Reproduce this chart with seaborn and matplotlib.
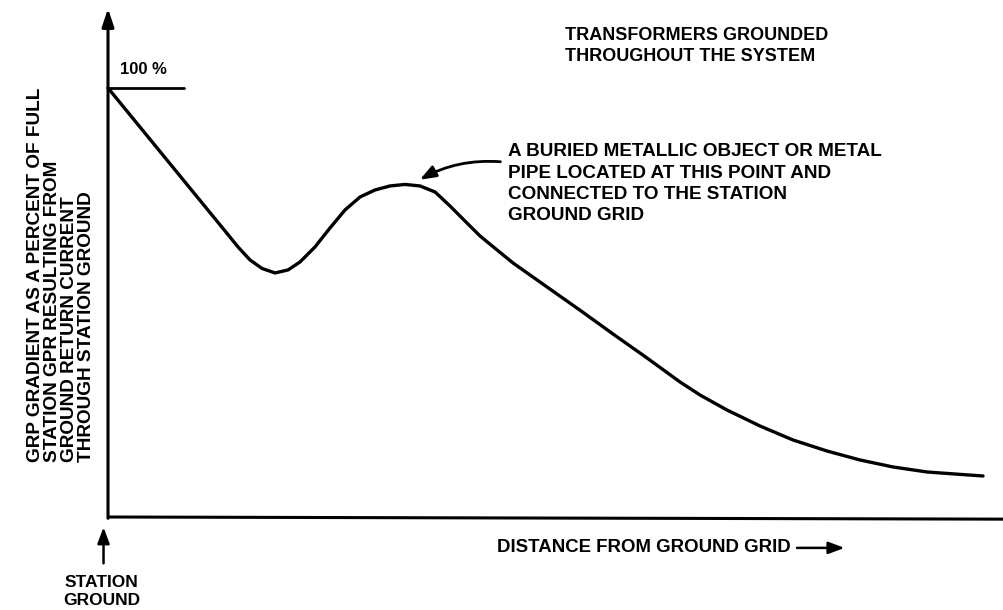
import matplotlib
matplotlib.use("Agg")
import matplotlib.pyplot as plt
import pandas as pd
import seaborn as sns

# Distance from the station ground grid (arbitrary units, station ground at 0)
distance = [0.0, 13.06, 14.51, 15.85, 17.19, 18.64, 20.09, 21.43, 23.10, 24.78,
            26.45, 28.13, 29.80, 31.47, 33.15, 34.82, 36.50, 38.17, 39.84, 41.52,
            43.42, 45.20, 47.10, 49.00, 52.68, 56.36, 60.16, 63.84, 66.07, 69.08,
            72.77, 76.45, 80.25, 83.93, 87.61, 91.41, 94.53, 97.66]
# GPR gradient as a percent of the full station GPR
gpr_percent = [100.0, 66.67, 62.94, 59.91, 57.93, 56.88, 57.58, 59.44, 62.94, 67.37,
               71.56, 74.59, 76.22, 77.16, 77.51, 77.16, 75.76, 72.49, 68.99, 65.50,
               62.24, 59.21, 56.41, 53.61, 48.20, 42.66, 37.06, 31.47, 28.44, 24.94,
               21.21, 17.95, 15.38, 13.29, 11.66, 10.49, 10.02, 9.56]

reference_level = 100.0
y_label_lines = [
    "GRP GRADIENT AS A PERCENT OF FULL",
    "STATION GPR RESULTING FROM",
    "GROUND RETURN CURRENT",
    "THROUGH STATION GROUND",
]
title_lines = ["TRANSFORMERS GROUNDED", "THROUGHOUT THE SYSTEM"]
note_lines = [
    "A BURIED METALLIC OBJECT OR METAL",
    "PIPE LOCATED AT THIS POINT AND",
    "CONNECTED TO THE STATION",
    "GROUND GRID",
]
x_label = "DISTANCE FROM GROUND GRID"
origin_label = "STATION\nGROUND"

sns.set_theme(style="white")
plt.rcParams["font.family"] = ["Liberation Sans", "DejaVu Sans"]

df = pd.DataFrame({"distance": distance, "gpr": gpr_percent})

fig = plt.figure(figsize=(10.04, 6.10), dpi=100)
ax = fig.add_axes([108 / 1004, 93 / 610, 896 / 1004, 517 / 610])
ax.set_xlim(0, 100)
ax.set_ylim(0, 120.5)
ax.axis("off")

ink = "black"
bold = dict(color=ink, fontweight="bold")

# Profile curve
sns.lineplot(data=df, x="distance", y="gpr", sort=False, color=ink,
             linewidth=2.4, ax=ax, clip_on=False)
ax.lines[-1].set_solid_joinstyle("round")
ax.lines[-1].set_solid_capstyle("round")

# Axes drawn as plain lines; vertical axis ends in an arrow
ax.plot([0, 100], [0, -0.5], color=ink, linewidth=2.2, clip_on=False,
        solid_capstyle="butt")
ax.annotate("", xy=(0, 118.5), xytext=(0, -0.3),
            arrowprops=dict(arrowstyle="-|>,head_length=0.9,head_width=0.3",
                            color=ink, linewidth=2.2, shrinkA=0, shrinkB=0),
            annotation_clip=False)

# 100 % reference tick
ax.plot([0, 8.5], [reference_level, reference_level], color=ink,
        linewidth=2.0, clip_on=False)
ax.text(1.3, 104.2, f"{reference_level:.0f} %", ha="left", va="center",
        fontsize=12, **bold)

# Vertical axis label
ax.text(-5.2, 12.8, "\n".join(y_label_lines), rotation=90,
        rotation_mode="anchor", ha="left", va="center", linespacing=1.0,
        multialignment="left", fontsize=13.7, **bold)

# Heading
ax.text(51.0, 109.7, "\n".join(title_lines), ha="left", va="center",
        linespacing=1.3, fontsize=13.0, **bold)

# Note with curved arrow to the bump
ax.text(44.6, 77.7, "\n".join(note_lines), ha="left", va="center",
        linespacing=1.32, fontsize=13.6, **bold)
ax.annotate("", xy=(34.8, 78.6), xytext=(43.8, 82.8),
            arrowprops=dict(arrowstyle="-|>,head_length=0.8,head_width=0.3",
                            connectionstyle="arc3,rad=0.15", color=ink,
                            linewidth=2.0, shrinkA=0, shrinkB=0))

# Horizontal axis label with arrow
ax.text(43.4, -7.2, x_label, ha="left", va="center", fontsize=13.4, **bold)
ax.annotate("", xy=(82.2, -7.2), xytext=(76.9, -7.2),
            arrowprops=dict(arrowstyle="-|>,head_length=0.8,head_width=0.3",
                            color=ink, linewidth=1.8, shrinkA=0, shrinkB=0),
            annotation_clip=False)

# Station ground marker
ax.annotate("", xy=(-0.5, -2.4), xytext=(-0.5, -10.8),
            arrowprops=dict(arrowstyle="-|>,head_length=0.8,head_width=0.3",
                            color=ink, linewidth=1.8, shrinkA=0, shrinkB=0),
            annotation_clip=False)
ax.text(-0.7, -17.4, origin_label, ha="center", va="center", linespacing=1.3,
        fontsize=12.5, **bold)

fig.savefig("out.png", dpi=100, facecolor="white")
